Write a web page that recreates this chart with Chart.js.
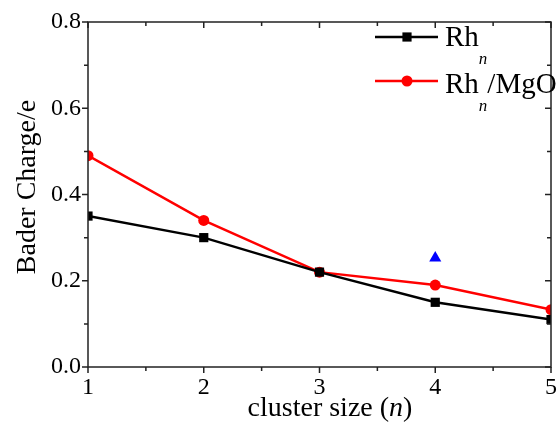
<!DOCTYPE html>
<html>
<head>
<meta charset="utf-8">
<script src="https://cdn.jsdelivr.net/npm/chart.js"></script>
<style>
  html, body { margin: 0; padding: 0; background: #fff; overflow: hidden; }
  canvas { display: block; }
</style>
</head>
<body>
<canvas id="chartBader" width="558" height="422"></canvas>
<script>
const clusterSize = [1, 2, 3, 4, 5]
const rhCharge = [0.35, 0.30, 0.22, 0.15, 0.11]
const rhMgoCharge = [0.49, 0.34, 0.22, 0.19, 0.133]
const extraPoint = [{x: 4, y: 0.253}]
const xTicks = [1, 2, 3, 4, 5]
const yTicks = [0.0, 0.2, 0.4, 0.6, 0.8]

const SERIF = '"Liberation Serif", "Times New Roman", serif'

function toPoints(xs, ys) {
  const pts = []
  for (var i = 0; i < xs.length; i++) {
    pts.push({x: xs[i], y: ys[i]})
  }
  return pts
}

// axes frame, tick marks, tick labels and axis titles
const frame = {
  id: 'frame',
  afterDraw(chart) {
    const ctx = chart.ctx
    const a = chart.chartArea
    const xs = chart.scales.x
    const ys = chart.scales.y
    ctx.save()
    ctx.strokeStyle = '#222'
    ctx.lineWidth = 1.5
    ctx.strokeRect(a.left, a.top, a.right - a.left, a.bottom - a.top)

    ctx.beginPath()
    for (var v = 1; v <= 5.001; v += 0.5) {
      const px = xs.getPixelForValue(v)
      const major = Math.abs(v - Math.round(v)) < 0.01
      const len = major ? 6 : 4
      ctx.moveTo(px, a.bottom); ctx.lineTo(px, a.bottom + len)
      ctx.moveTo(px, a.top); ctx.lineTo(px, a.top + len)
    }
    for (var k = 0; k <= 8; k++) {
      const py = ys.getPixelForValue(k / 10)
      const len = k % 2 === 0 ? 6 : 4
      ctx.moveTo(a.left, py); ctx.lineTo(a.left - len, py)
      ctx.moveTo(a.right, py); ctx.lineTo(a.right - len, py)
    }
    ctx.stroke()

    ctx.fillStyle = '#000'
    ctx.font = '24px ' + SERIF
    ctx.textAlign = 'center'
    ctx.textBaseline = 'middle'
    xTicks.forEach(t => ctx.fillText(String(t), xs.getPixelForValue(t), 388))
    ctx.textAlign = 'right'
    yTicks.forEach(t => ctx.fillText(t.toFixed(1), 81, ys.getPixelForValue(t)))

    // x title with italic n
    ctx.textBaseline = 'alphabetic'
    ctx.textAlign = 'left'
    const p1 = 'cluster size (', p2 = 'n', p3 = ')'
    ctx.font = '28px ' + SERIF
    const w1 = ctx.measureText(p1).width, w3 = ctx.measureText(p3).width
    ctx.font = 'italic 28px ' + SERIF
    const w2 = ctx.measureText(p2).width
    let x0 = 330 - (w1 + w2 + w3) / 2
    ctx.font = '28px ' + SERIF
    ctx.fillText(p1, x0, 416)
    ctx.font = 'italic 28px ' + SERIF
    ctx.fillText(p2, x0 + w1, 416)
    ctx.font = '28px ' + SERIF
    ctx.fillText(p3, x0 + w1 + w2, 416)

    // y title
    ctx.save()
    ctx.translate(28, 187)
    ctx.rotate(-Math.PI / 2)
    ctx.textAlign = 'center'
    ctx.textBaseline = 'middle'
    ctx.fillText('Bader Charge/e', 0, 0)
    ctx.restore()

    // legend
    const items = [
      {color: '#000', style: 'rect', radius: 6.5, y: 37, base: 46, tail: ''},
      {color: '#f00', style: 'circle', radius: 5.5, y: 81, base: 93, tail: '/MgO'}
    ]
    items.forEach(it => {
      ctx.strokeStyle = it.color
      ctx.lineWidth = 2.5
      ctx.beginPath()
      ctx.moveTo(375, it.y); ctx.lineTo(438, it.y)
      ctx.stroke()
      ctx.fillStyle = it.color
      Chart.helpers.drawPoint(ctx, {pointStyle: it.style, radius: it.radius, rotation: 0, borderWidth: 0}, 407, it.y)
      ctx.fillStyle = '#000'
      ctx.font = '29px ' + SERIF
      ctx.fillText('Rh', 445, it.base)
      const wr = ctx.measureText('Rh').width
      ctx.font = 'italic 17px ' + SERIF
      ctx.fillText('n', 445 + wr, it.base + 18)
      const wn = ctx.measureText('n').width
      if (it.tail) {
        ctx.font = '29px ' + SERIF
        ctx.fillText(it.tail, 445 + wr + wn, it.base)
      }
    })
    ctx.restore()
  }
}

new Chart(document.getElementById('chartBader'), {
  type: 'line',
  data: {
    datasets: [{
      label: 'Rh_n',
      data: toPoints(clusterSize, rhCharge),
      borderColor: '#000',
      backgroundColor: '#000',
      borderWidth: 2.5,
      pointStyle: 'rect',
      pointRadius: 6.5,
      pointBorderWidth: 0,
      tension: 0
    }, {
      label: 'Rh_n/MgO',
      data: toPoints(clusterSize, rhMgoCharge),
      borderColor: '#f00',
      backgroundColor: '#f00',
      borderWidth: 2.5,
      pointStyle: 'circle',
      pointRadius: 5.5,
      pointBorderWidth: 0,
      tension: 0
    }, {
      label: 'extra',
      data: extraPoint,
      showLine: false,
      borderColor: '#00f',
      backgroundColor: '#00f',
      pointStyle: 'triangle',
      pointRadius: 7,
      pointBorderWidth: 0
    }]
  },
  options: {
    responsive: false,
    animation: false,
    devicePixelRatio: 1,
    layout: {padding: {left: 88, top: 22, right: 5, bottom: 55}},
    plugins: {
      legend: {display: false},
      tooltip: {enabled: false}
    },
    scales: {
      x: {type: 'linear', min: 1, max: 5, display: false},
      y: {min: 0, max: 0.8, display: false}
    }
  },
  plugins: [frame]
});
</script>
</body>
</html>
